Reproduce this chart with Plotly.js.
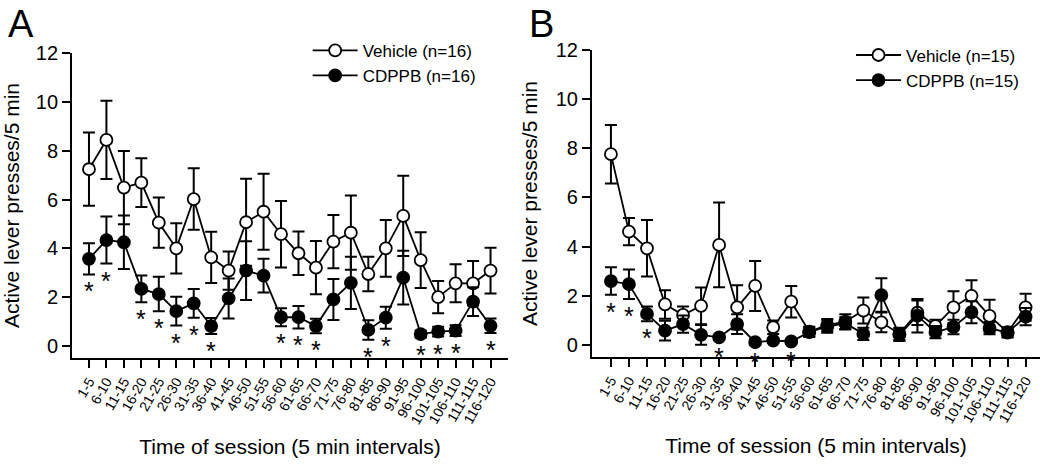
<!DOCTYPE html>
<html>
<head>
<meta charset="utf-8">
<script src="https://cdn.plot.ly/plotly-3.0.1.min.js"></script>
<style>html,body{margin:0;padding:0;background:#fff}#chart{width:1050px;height:468px}</style>
</head>
<body>
<div id="chart"></div>
<script>
// Categories (time of session, 5 min intervals)
const timeBins = ["1-5","6-10","11-15","16-20","21-25","26-30","31-35","36-40","41-45","46-50","51-55","56-60",
  "61-65","66-70","71-75","76-80","81-85","86-90","91-95","96-100","101-105","106-110","111-115","116-120"];

// Panel A
const vehA    = [7.24,8.44,6.49,6.69,5.05,4.00,6.02,3.63,3.09,5.07,5.50,4.58,3.80,3.21,4.28,4.64,2.95,4.00,5.33,3.52,2.00,2.57,2.57,3.09];
const vehAse  = [1.50,1.60,1.50,1.00,1.03,1.03,1.26,1.05,0.78,1.78,1.56,1.36,0.89,1.09,1.09,1.52,0.71,1.16,1.64,1.14,0.66,0.78,0.91,0.94];
const cdpA    = [3.57,4.34,4.25,2.34,2.13,1.43,1.75,0.82,1.95,3.09,2.88,1.18,1.18,0.82,1.91,2.59,0.66,1.16,2.80,0.49,0.59,0.63,1.82,0.83];
const cdpAse  = [0.64,0.96,1.10,0.55,0.71,0.59,0.59,0.33,0.82,1.20,0.69,0.37,0.46,0.30,0.84,1.07,0.40,0.45,1.10,0.15,0.20,0.22,0.59,0.30];
const sigA    = [1,1,0,1,1,1,1,1,0,0,0,1,1,1,0,0,1,1,0,1,1,1,0,1];

// Panel B
const vehB    = [7.76,4.61,3.93,1.65,1.22,1.59,4.07,1.53,2.40,0.72,1.76,0.54,0.81,0.95,1.40,0.92,0.45,1.31,0.77,1.53,2.00,1.18,0.52,1.53];
const vehBse  = [1.19,0.55,1.15,0.58,0.34,0.75,1.72,0.90,1.02,0.27,0.64,0.20,0.25,0.30,0.53,0.40,0.25,0.50,0.25,0.65,0.63,0.66,0.20,0.55];
const cdpB    = [2.60,2.47,1.26,0.58,0.85,0.41,0.31,0.85,0.11,0.18,0.14,0.52,0.75,0.88,0.45,2.03,0.41,1.19,0.52,0.73,1.33,0.68,0.50,1.15];
const cdpBse  = [0.56,0.60,0.30,0.40,0.35,0.40,0.10,0.40,0.10,0.10,0.10,0.20,0.25,0.25,0.25,0.68,0.25,0.68,0.25,0.30,0.45,0.25,0.20,0.35];
const sigB    = [1,1,1,0,0,0,1,0,1,0,1,0,0,0,0,0,0,0,0,0,0,0,0,0];

const legendA = ["Vehicle (n=16)", "CDPPB (n=16)"];
const legendB = ["Vehicle (n=15)", "CDPPB (n=15)"];
const xTitle = "Time of session (5 min intervals)";
const yTitle = "Active lever presses/5 min";
const FONT = "Liberation Sans, Arial, sans-serif";

function errObj(arr){
  return {type:"data", array:arr, visible:true, color:"#000", thickness:2, width:6};
}
function series(name, y, se, filled, xa, ya, leg){
  return {
    x: timeBins, y: y, name: name, type: "scatter", mode: "lines+markers",
    xaxis: xa, yaxis: ya, legend: leg,
    line: {color:"#000", width:1.8},
    marker: {size:12, color: filled ? "#000" : "#fff", line:{color:"#000", width:1.8}},
    error_y: errObj(se), cliponaxis: false
  };
}
// significance asterisks placed just below each CDPPB error bar
function starNotes(y, se, sig, xa, ya){
  const out = [];
  sig.forEach((s,i)=>{
    if(s) out.push({text:"*", xref:xa, yref:ya, x:timeBins[i], y:y[i]-se[i], yshift:-17,
      xanchor:"center", yanchor:"middle", showarrow:false, font:{family:FONT, size:25, color:"#000"}});
  });
  return out;
}

const data = [
  series(legendA[0], vehA, vehAse, false, "x", "y", "legend"),
  series(legendA[1], cdpA, cdpAse, true, "x", "y", "legend"),
  series(legendB[0], vehB, vehBse, false, "x2", "y2", "legend2"),
  series(legendB[1], cdpB, cdpBse, true, "x2", "y2", "legend2")
];

function xax(domain, range){
  return {domain: domain, range: range, type:"category", categoryorder:"array", categoryarray: timeBins,
    tickmode:"array", tickvals: timeBins, ticktext: timeBins,
    showline:true, linecolor:"#000", linewidth:2, ticks:"outside", ticklen:8, tickwidth:2, tickcolor:"#000",
    tickangle:-60, tickfont:{family:FONT, size:14, color:"#000"}, showgrid:false, zeroline:false,
    title:{text:xTitle, font:{family:FONT, size:21, color:"#000"}, standoff:13}};
}
function yax(domain, range){
  return {domain: domain, range: range, tickvals:[0,2,4,6,8,10,12],
    showline:true, linecolor:"#000", linewidth:2, ticks:"outside", ticklen:8, tickwidth:2, tickcolor:"#000",
    tickfont:{family:FONT, size:20, color:"#000"}, showgrid:false, zeroline:false,
    title:{text:yTitle, font:{family:FONT, size:21, color:"#000"}, standoff:12}};
}

const layout = {
  width:1050, height:468, margin:{l:0,r:0,t:0,b:0}, paper_bgcolor:"#fff", plot_bgcolor:"#fff",
  font:{family:FONT, color:"#000"},
  xaxis: Object.assign(xax([0.0686,0.4838],[-0.97,24.0]), {anchor:"y"}),
  yaxis: Object.assign(yax([0.235,0.8868],[-0.49,12]), {anchor:"x"}),
  xaxis2: Object.assign(xax([0.5638,0.9905],[-1.05,23.8]), {anchor:"y2"}),
  yaxis2: Object.assign(yax([0.2372,0.8932],[-0.49,12]), {anchor:"x2"}),
  legend: {x:0.293, y:0.93, xanchor:"left", yanchor:"top", bgcolor:"rgba(0,0,0,0)", itemwidth:45,
    font:{family:FONT, size:17, color:"#000"}, tracegroupgap:0},
  legend2: {x:0.8105, y:0.92, xanchor:"left", yanchor:"top", bgcolor:"rgba(0,0,0,0)", itemwidth:45,
    font:{family:FONT, size:17, color:"#000"}, tracegroupgap:0},
  annotations: [
    {text:"A", xref:"paper", yref:"paper", x:0.006, y:0.998, xanchor:"left", yanchor:"top", showarrow:false,
      font:{family:FONT, size:38, color:"#000"}},
    {text:"B", xref:"paper", yref:"paper", x:0.502, y:0.998, xanchor:"left", yanchor:"top", showarrow:false,
      font:{family:FONT, size:38, color:"#000"}}
  ].concat(starNotes(cdpA, cdpAse, sigA, "x", "y"), starNotes(cdpB, cdpBse, sigB, "x2", "y2"))
};

Plotly.newPlot("chart", data, layout, {displayModeBar:false, staticPlot:true});
</script>
</body>
</html>
